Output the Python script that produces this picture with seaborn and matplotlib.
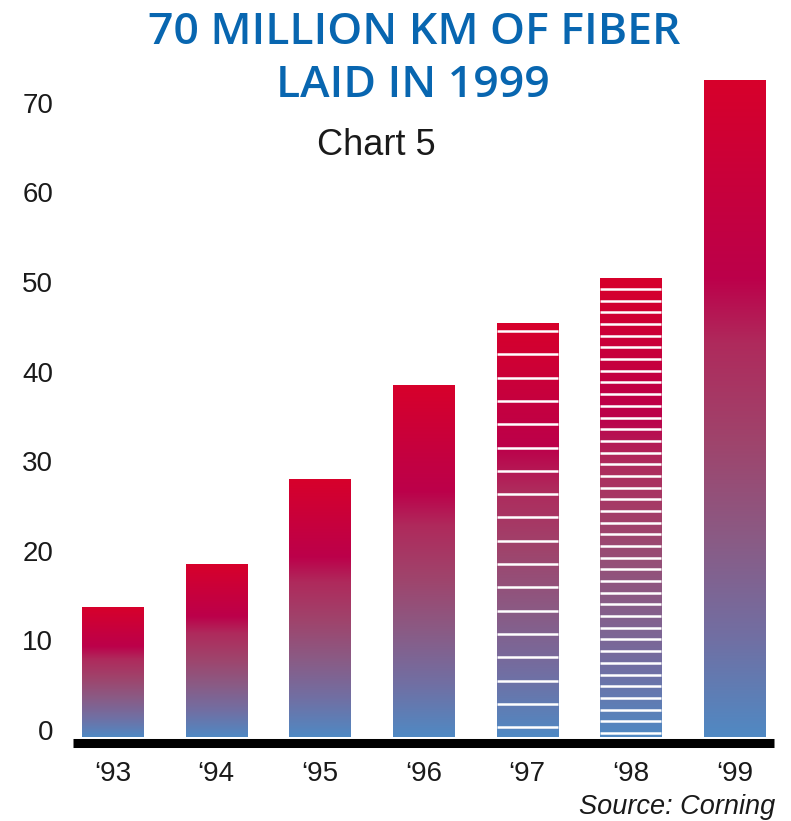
import numpy as np
import pandas as pd
import matplotlib
matplotlib.use("Agg")
import matplotlib.pyplot as plt
import seaborn as sns
from matplotlib.colors import LinearSegmentedColormap
from matplotlib.transforms import ScaledTranslation

# ---- data ----
years = ["\u201893", "\u201894", "\u201895", "\u201896", "\u201897", "\u201898", "\u201899"]
fiber_km = [14.4, 19.2, 28.7, 39.2, 46.1, 51.2, 73.3]
y_ticks = [0, 10, 20, 30, 40, 50, 60, 70]
title_lines = ["70 MILLION KM OF FIBER", "LAID IN 1999"]
subtitle = "Chart 5"
source = "Source: Corning"

# ---- style ----
striped = {"\u201897": (1.1, 2.6), "\u201898": (0.45, 1.304)}  # (first line, spacing)

sns.set_style("white")
plt.rcParams["font.family"] = ["Liberation Sans", "DejaVu Sans"]

W, H = 791, 821
fig = plt.figure(figsize=(W / 100, H / 100), dpi=100)
ax = fig.add_axes([73 / W, 84 / H, (774 - 73) / W, 672 / H])

df = pd.DataFrame({"year": years, "km": fiber_km})
sns.barplot(data=df, x="year", y="km", ax=ax, width=0.59, color="white",
            saturation=1, edgecolor="none")

cmap = LinearSegmentedColormap.from_list(
    "fiber",
    [(0.0, "#5089c3"), (0.15, "#716fa3"), (0.30, "#8a5b85"), (0.45, "#9f446c"),
     (0.60, "#af2a5c"), (0.70, "#bc004a"), (0.82, "#c6003e"), (1.0, "#d7002b")])
grad = np.linspace(0, 1, 256).reshape(-1, 1)

for patch, yr in zip(ax.patches, years):
    x0 = patch.get_x()
    x1 = x0 + patch.get_width()
    h = patch.get_height()
    patch.set_facecolor("none")
    ax.imshow(grad, extent=[x0, x1, 0, h], aspect="auto", cmap=cmap,
              origin="lower", zorder=2, interpolation="bilinear")
    if yr in striped:
        start, step = striped[yr]
        ys = np.arange(start, h - 0.3, step)
        ax.hlines(ys, x0, x1, colors="white", lw=1.8, zorder=3)

ax.set_xlim(-0.38, 6.38)
ax.set_ylim(0, 75)
ax.set_yticks(y_ticks)
ax.set_xlabel("")
ax.set_ylabel("")

for s in ["top", "right", "left"]:
    ax.spines[s].set_visible(False)
sp = ax.spines["bottom"]
sp.set_linewidth(6.5)
sp.set_color("black")
sp.set_capstyle("butt")
sp.set_position(("outward", 4))
sp.set_zorder(4)

ax.tick_params(axis="both", length=0, labelsize=20, colors="#1a1a1a")
ax.tick_params(axis="x", pad=13)
ax.tick_params(axis="y", pad=14.4)

for lab in ax.get_yticklabels():
    lab.set_transform(lab.get_transform() + ScaledTranslation(0, 0.07, fig.dpi_scale_trans))

title_kw = dict(ha="center", va="baseline", fontsize=32, fontweight="semibold",
                color="#0866b0", family=["Open Sans", "DejaVu Sans"])
fig.text(414 / W, 1 - 44 / H, title_lines[0], **title_kw)
fig.text(413 / W, 1 - 97 / H, title_lines[1], **title_kw)
fig.text(376 / W, 1 - 155 / H, subtitle, ha="center", va="baseline",
         fontsize=26, color="#1a1a1a")
fig.text(775 / W, 1 - 814 / H, source, ha="right", va="baseline",
         fontsize=19.5, style="italic", color="#1a1a1a")

fig.savefig("out.png", dpi=100)
